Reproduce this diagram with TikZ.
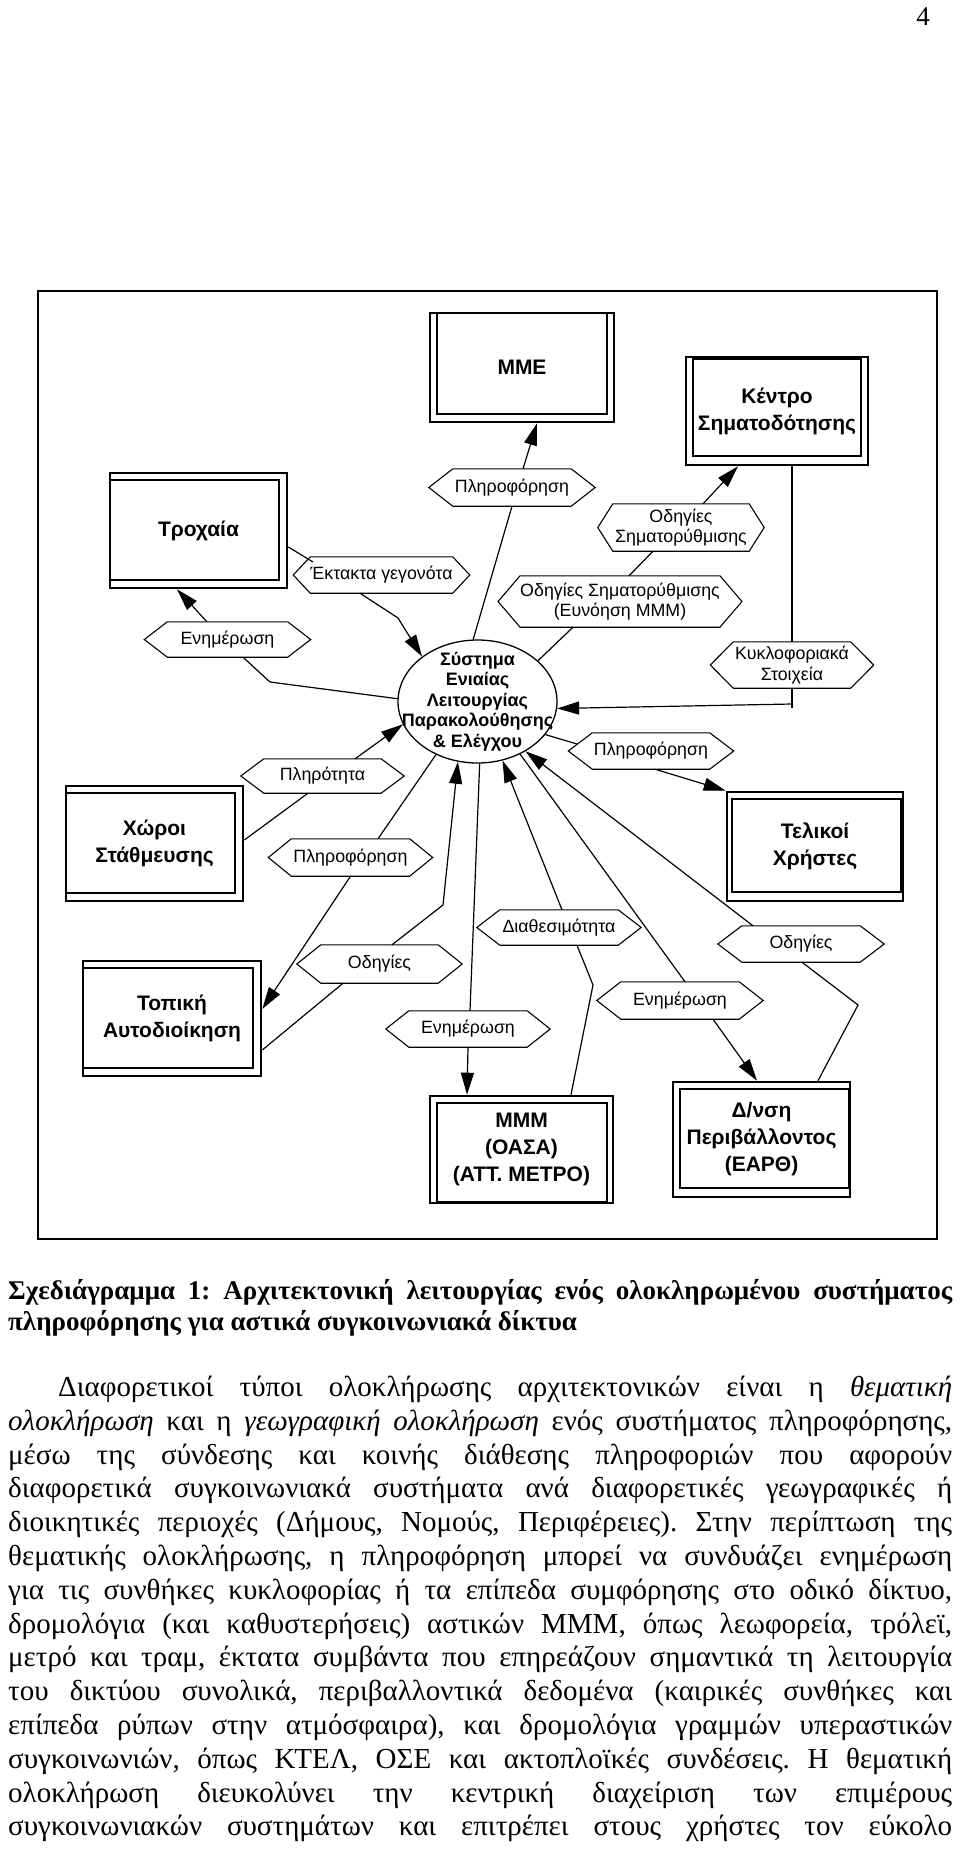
\documentclass[tikz,border=0pt]{standalone}
\usepackage{fontspec}
\setmainfont{Liberation Serif}
\newfontfamily\arialf{Liberation Sans}
\usetikzlibrary{arrows.meta,shapes.geometric}
\frenchspacing
\newcommand\inbox[5]{\draw[line width=2.3pt] ([shift={(#2,#3)}]#1.north west) rectangle ([shift={(-#4,-#5)}]#1.south east);}
\newcommand\hexo[2]{\draw[hexline] (#1.north west) -- (#1.north east) -- ([shift={(#2,0)}]#1.east) -- (#1.south east) -- (#1.south west) -- ([shift={(-#2,0)}]#1.west) -- cycle;}
\newcommand\jl[1]{\hbox to 944pt{#1}}
\begin{document}
\begin{tikzpicture}[x=1pt,y=-1pt,
 bx/.style={draw,line width=2.6pt,inner sep=0pt,align=center,font=\arialf\bfseries\fontsize{21}{27}\selectfont},
 hexn/.style={inner sep=0pt,minimum width=118pt,minimum height=36pt,align=center,font=\arialf\fontsize{17.8}{20.5}\selectfont},
 hexline/.style={line width=1.1pt},
 ln/.style={line width=1.2pt},
 ar/.style={line width=1.2pt,-{Triangle[length=22pt,width=13pt]}},
 lbl/.style={inner sep=0pt}]
\fill[white] (0,0) rectangle (960,1862);
\useasboundingbox (0,0) rectangle (960,1862);
\node[lbl,font=\fontsize{27}{30}\selectfont] (pnum) at (923,17) {4};
% frame
\draw[line width=2.2pt] (38,291) rectangle (937,1239);
% boxes
\node[bx,minimum width=184pt,minimum height=109pt] (bMME) at (522,367.5) {ΜΜΕ};
\inbox{bMME}{8}{1}{8}{9}
\node[bx,minimum width=182pt,minimum height=108pt] (bKentro) at (777,411) {Κέντρο\\Σηματοδότησης};
\inbox{bKentro}{8}{3}{8}{10}
\node[bx,minimum width=177pt,minimum height=115pt] (bTrox) at (198.5,530.5) {Τροχαία};
\inbox{bTrox}{1}{8}{9}{9}
\node[bx,minimum width=177pt,minimum height=115pt] (bXoroi) at (154.5,843.5) {Χώροι\\Στάθμευσης};
\inbox{bXoroi}{1}{8}{9}{9}
\node[bx,minimum width=178pt,minimum height=115pt] (bTopiki) at (172,1018.5) {Τοπική\\Αυτοδιοίκηση};
\inbox{bTopiki}{1}{8}{9}{9}
\node[bx,minimum width=183pt,minimum height=107pt] (bMMM) at (521.5,1149.5) {ΜΜΜ\\(ΟΑΣΑ)\\(ΑΤΤ. ΜΕΤΡΟ)};
\inbox{bMMM}{8}{8}{7}{2}
\node[bx,minimum width=177pt,minimum height=115pt] (bDnsi) at (761.5,1139.5) {Δ/νση\\Περιβάλλοντος\\(ΕΑΡΘ)};
\inbox{bDnsi}{8}{8}{2}{10}
\node[bx,minimum width=176pt,minimum height=109pt] (bTelikoi) at (815,846.5) {Τελικοί\\Χρήστες};
\inbox{bTelikoi}{6}{8}{3}{10}
% central ellipse
\node[draw,ellipse,line width=1.3pt,minimum width=159pt,minimum height=123pt,inner sep=0pt] (sys) at (477.5,701.5) {};
\node[lbl,align=center,font=\arialf\bfseries\fontsize{18}{20.5}\selectfont] (sysT) at (sys.center) {Σύστημα\\Ενιαίας\\Λειτουργίας\\Παρακολούθησης\\\& Ελέγχου};
% hexagons
\node[hexn,minimum height=37pt] (hPinfoTop) at (512,487.5) {Πληροφόρηση}; \hexo{hPinfoTop}{24}
\node[hexn,minimum width=136pt,minimum height=47pt] (hOdSim) at (681,527.5) {Οδηγίες\\Σηματορύθμισης}; \hexo{hOdSim}{15}
\node[hexn,minimum width=192pt,minimum height=51pt] (hOdSimE) at (620,601.5) {Οδηγίες Σηματορύθμισης\\(Ευνόηση ΜΜΜ)}; \hexo{hOdSimE}{22}
\node[hexn,minimum width=133pt] (hEktakta) at (381.5,575) {Έκτακτα γεγονότα}; \hexo{hEktakta}{17}
\node[hexn,minimum width=120pt,minimum height=35pt] (hEnimTr) at (227.5,639.5) {Ενημέρωση}; \hexo{hEnimTr}{23}
\node[hexn,minimum width=117pt,minimum height=46pt] (hKykl) at (792,665) {Κυκλοφοριακά\\Στοιχεία}; \hexo{hKykl}{23}
\node[hexn,minimum width=117pt] (hPinfoR) at (651,751) {Πληροφόρηση}; \hexo{hPinfoR}{24}
\node[hexn,minimum width=117pt,minimum height=34pt] (hPlir) at (322.5,776) {Πληρότητα}; \hexo{hPlir}{23}
\node[hexn,minimum height=37pt] (hPinfoL) at (350.5,857.5) {Πληροφόρηση}; \hexo{hPinfoL}{23}
\node[hexn,minimum width=117pt,minimum height=38pt] (hOdL) at (379.5,964) {Οδηγίες}; \hexo{hOdL}{24}
\node[hexn,minimum height=35pt] (hDiath) at (559,927.5) {Διαθεσιμότητα}; \hexo{hDiath}{23}
\node[hexn] (hOdR) at (801,944) {Οδηγίες}; \hexo{hOdR}{24}
\node[hexn] (hEnimM) at (468,1029) {Ενημέρωση}; \hexo{hEnimM}{23}
\node[hexn,minimum height=37pt] (hEnimR) at (680,1000.5) {Ενημέρωση}; \hexo{hEnimR}{24}
% bend points
\coordinate (k1) at (398,618);
\coordinate (k2) at (270,682);
\coordinate (k3) at (792,708);
\coordinate (k4) at (792,704);
\coordinate (k5) at (443,905);
\coordinate (k6) at (593,985);
\coordinate (k7) at (858,1005);
% connectors
\draw[ln] ([shift={(0,16.5)}]bTrox.east) -- ([shift={(-68.5,-13)}]hEktakta.center);
\draw[ar] ([shift={(-21.5,0)}]hEktakta.south) -- (k1) -- (sys.141);
\draw[ar] ([shift={(-20.5,0)}]hEnimTr.north) -- ([shift={(-21.5,0)}]bTrox.south);
\draw[ln] (sys.178) -- (k2) -- ([shift={(15.5,0)}]hEnimTr.south);
\draw[ln] (sys.94) -- (hPinfoTop.south);
\draw[ar] ([shift={(11,0)}]hPinfoTop.north) -- ([shift={(15,0)}]bMME.south);
\draw[ar] ([shift={(22,0)}]hOdSim.north) -- ([shift={(-39,0)}]bKentro.south);
\draw[ln] ([shift={(-28,0)}]hOdSim.south) -- ([shift={(9,0)}]hOdSimE.north);
\draw[ln] ([shift={(-47,0)}]hOdSimE.south) -- (sys.34);
\draw[ln] ([shift={(15,0)}]bKentro.south) -- (hKykl.north);
\draw[ln] (hKykl.south) -- (k3);
\draw[ar] (k4) -- (sys.355);
\draw[ln] (sys.334) -- ([shift={(-74,-7)}]hPinfoR.center);
\draw[ar] ([shift={(4,0)}]hPinfoR.south) -- (bTelikoi.north west);
\draw[ar] ([shift={(32.5,0)}]hPlir.north) -- (sys.197);
\draw[ln] ([shift={(0,-3.5)}]bXoroi.east) -- ([shift={(-14.5,0)}]hPlir.south);
\draw[ln] (sys.232) -- ([shift={(27.5,0)}]hPinfoL.north);
\draw[ar] (hPinfoL.south) -- ([shift={(0,-9.5)}]bTopiki.east);
\draw[ln] ([shift={(0,31.5)}]bTopiki.east) -- ([shift={(-36.5,0)}]hOdL.south);
\draw[ar] ([shift={(12.5,0)}]hOdL.north) -- (k5) -- (sys.252);
\draw[ln] (sys.272) -- ([shift={(2,0)}]hEnimM.north);
\draw[ar] (hEnimM.south) -- ([shift={(-54.5,0)}]bMMM.north);
\draw[ar] ([shift={(3,0)}]hDiath.north) -- (sys.293);
\draw[ln] ([shift={(18,0)}]hDiath.south) -- (k6) -- ([shift={(49.5,0)}]bMMM.north);
\draw[ln] (sys.309) -- ([shift={(5,0)}]hEnimR.north);
\draw[ar] ([shift={(33,0)}]hEnimR.south) -- ([shift={(-4.5,0)}]bDnsi.north);
\draw[ar] ([shift={(-48,0)}]hOdR.north) -- (sys.314);
\draw[ln] ([shift={(1,0)}]hOdR.south) -- (k7) -- ([shift={(56.5,0)}]bDnsi.north);
% caption
\node[anchor=base west,inner sep=0pt] (cap) at (8,1299) {\vtop{\bfseries\fontsize{27}{31}\selectfont\baselineskip=31pt
\jl{Σχεδιάγραμμα 1: Αρχιτεκτονική λειτουργίας ενός ολοκληρωμένου συστήματος}
\hbox{πληροφόρησης για αστικά συγκοινωνιακά δίκτυα}}};
% paragraph
\node[anchor=base west,inner sep=0pt] (para) at (8,1396.5) {\vtop{\fontsize{29}{33.8}\selectfont\baselineskip=33.8pt
\jl{\hspace*{50pt}Διαφορετικοί τύποι ολοκλήρωσης αρχιτεκτονικών είναι η \textit{θεματική}}
\jl{\textit{ολοκλήρωση} και η \textit{γεωγραφική ολοκλήρωση} ενός συστήματος πληροφόρησης,}
\jl{μέσω της σύνδεσης και κοινής διάθεσης πληροφοριών που αφορούν}
\jl{διαφορετικά συγκοινωνιακά συστήματα ανά διαφορετικές γεωγραφικές ή}
\jl{διοικητικές περιοχές (Δήμους, Νομούς, Περιφέρειες). Στην περίπτωση της}
\jl{θεματικής ολοκλήρωσης, η πληροφόρηση μπορεί να συνδυάζει ενημέρωση}
\jl{για τις συνθήκες κυκλοφορίας ή τα επίπεδα συμφόρησης στο οδικό δίκτυο,}
\jl{δρομολόγια (και καθυστερήσεις) αστικών ΜΜΜ, όπως λεωφορεία, τρόλεϊ,}
\jl{μετρό και τραμ, έκτατα συμβάντα που επηρεάζουν σημαντικά τη λειτουργία}
\jl{του δικτύου συνολικά, περιβαλλοντικά δεδομένα (καιρικές συνθήκες και}
\jl{επίπεδα ρύπων στην ατμόσφαιρα), και δρομολόγια γραμμών υπεραστικών}
\jl{συγκοινωνιών, όπως ΚΤΕΛ, ΟΣΕ και ακτοπλοϊκές συνδέσεις. Η θεματική}
\jl{ολοκλήρωση διευκολύνει την κεντρική διαχείριση των επιμέρους}
\jl{συγκοινωνιακών συστημάτων και επιτρέπει στους χρήστες τον εύκολο}}};
\end{tikzpicture}
\end{document}
